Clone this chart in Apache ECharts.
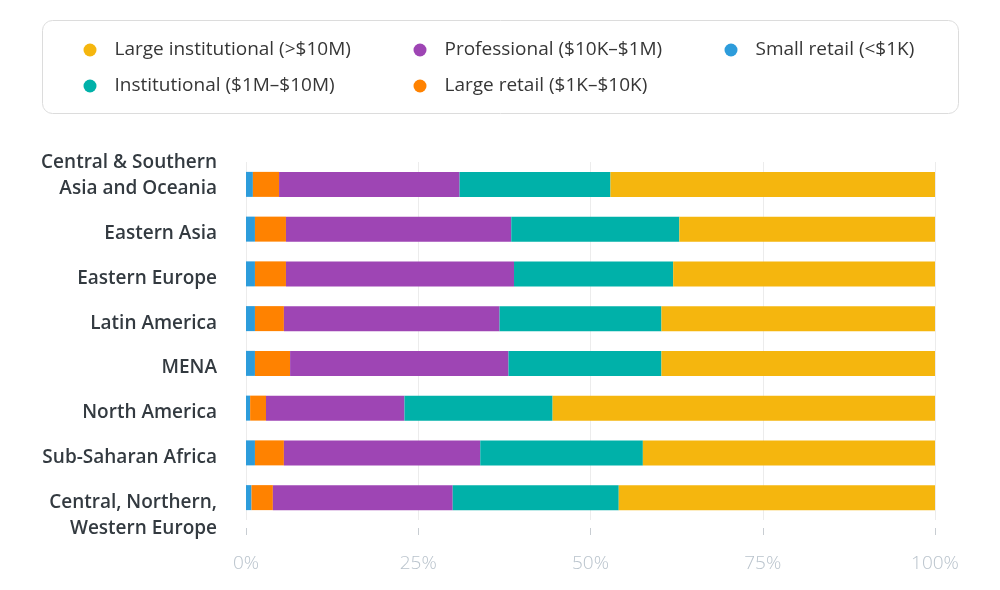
<!DOCTYPE html>
<html>
<head>
<meta charset="utf-8">
<script src="https://cdn.jsdelivr.net/npm/echarts@6/dist/echarts.min.js"></script>
<style>
html,body{margin:0;padding:0;background:#fff;}
#chart{width:1000px;height:590px;}
</style>
</head>
<body>
<div id="chart"></div>
<script>
// Data (percent of each region)
var categories = [
  "Central & Southern\nAsia and Oceania",
  "Eastern Asia",
  "Eastern Europe",
  "Latin America",
  "MENA",
  "North America",
  "Sub-Saharan Africa",
  "Central, Northern,\nWestern Europe"
];
var smallRetail        = [1.0, 1.3, 1.3, 1.3, 1.3, 0.6, 1.3, 0.8];
var largeRetail        = [3.8, 4.5, 4.5, 4.2, 5.1, 2.3, 4.2, 3.1];
var professional       = [26.2, 32.7, 33.1, 31.3, 31.7, 20.1, 28.5, 26.1];
var institutional      = [21.9, 24.4, 23.1, 23.5, 22.2, 21.5, 23.6, 24.1];
var largeInstitutional = [47.1, 37.1, 38.0, 39.7, 39.7, 55.5, 42.4, 45.9];
var seriesNames = [
  "Small retail (<$1K)",
  "Large retail ($1K–$10K)",
  "Professional ($10K–$1M)",
  "Institutional ($1M–$10M)",
  "Large institutional (>$10M)"
];
var tickLabels = ["0%", "25%", "50%", "75%", "100%"];

var colors = ["#2D9CDB", "#FF8200", "#9E45B4", "#00B1A9", "#F5B60E"];
var seriesData = [smallRetail, largeRetail, professional, institutional, largeInstitutional];

var FONT = "'Open Sans', 'Noto Sans', sans-serif";

var chart = echarts.init(document.getElementById('chart'), null, {renderer: 'canvas'});

function mkLegend(name, left, top) {
  return {
    data: [name],
    left: left,
    top: top,
    orient: 'vertical',
    padding: 0,
    icon: 'circle',
    itemWidth: 13,
    itemHeight: 13,
    selectedMode: false,
    textStyle: {
      fontFamily: FONT,
      fontSize: 19,
      color: '#363636',
      lineHeight: 22,
      padding: [0, 0, 0, 13]
    }
  };
}

var option = {
  animation: false,
  color: colors,
  graphic: [{
    type: 'rect',
    left: 42,
    top: 20,
    shape: {width: 916, height: 93, r: 10},
    style: {fill: '#fff', stroke: '#dcdcdc', lineWidth: 1},
    z: -1
  }],
  legend: [
    mkLegend(seriesNames[4], 83.5, 39),
    mkLegend(seriesNames[3], 83.5, 75),
    mkLegend(seriesNames[2], 413.5, 39),
    mkLegend(seriesNames[1], 413.5, 75),
    mkLegend(seriesNames[0], 724.5, 39)
  ],
  grid: {left: 246, right: 65, top: 162, height: 358, containLabel: false},
  xAxis: {
    type: 'value',
    min: 0,
    max: 100,
    interval: 25,
    offset: 8,
    axisLine: {show: false},
    axisTick: {show: true, length: 7, lineStyle: {color: '#c8cdd2', width: 1}},
    splitLine: {show: true, lineStyle: {color: '#ececec', width: 1}},
    axisLabel: {
      margin: 26,
      fontFamily: FONT,
      fontSize: 19,
      fontWeight: 300,
      color: '#b9c3cc',
      formatter: function (v) { return tickLabels[Math.round(v / 25)]; }
    }
  },
  yAxis: {
    type: 'category',
    inverse: true,
    data: categories,
    axisLine: {show: false},
    axisTick: {show: false},
    axisLabel: {
      interval: 0,
      hideOverlap: false,
      margin: 29,
      fontFamily: FONT,
      fontSize: 19,
      fontWeight: 600,
      color: '#333a40',
      align: 'right',
      rich: {
        t: {fontFamily: FONT, fontSize: 19, fontWeight: 600, color: '#333a40', lineHeight: 26, align: 'right'},
        s: {fontSize: 1, lineHeight: 9, align: 'right'}
      },
      formatter: function (v, i) {
        var lines = v.split('\n');
        if (i === 0) lines.push(' ');
        if (i === categories.length - 1) lines.unshift(' ');
        return '{s| }\n' + lines.map(function (l) { return '{t|' + l + '}'; }).join('\n');
      }
    }
  },
  series: seriesData.map(function (d, i) {
    return {
      name: seriesNames[i],
      type: 'bar',
      stack: 'total',
      barWidth: 25,
      data: d,
      itemStyle: {color: colors[i]},
      emphasis: {disabled: true}
    };
  })
};
chart.setOption(option);
</script>
</body>
</html>
